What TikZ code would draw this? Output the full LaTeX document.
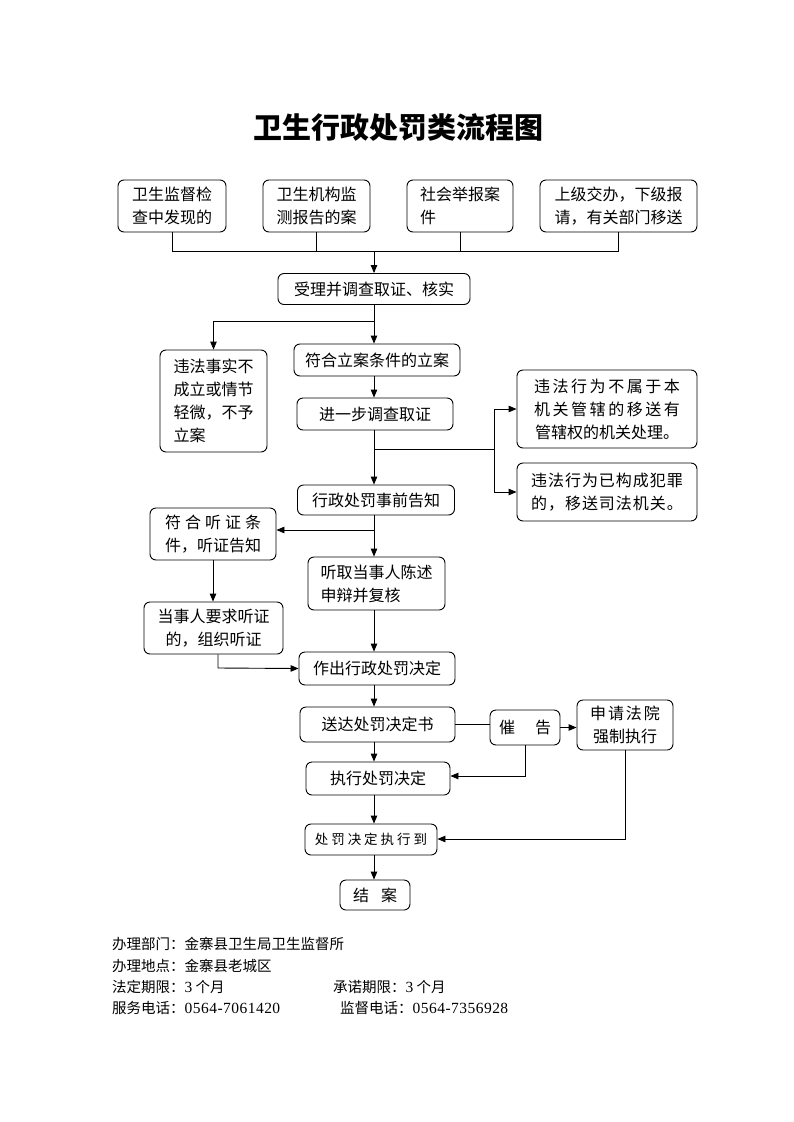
\documentclass[tikz,border=0pt]{standalone}
\usepackage{fontspec}
\newfontfamily\cjk{Noto Sans CJK SC}
\newfontfamily\numf{Liberation Serif}
\usetikzlibrary{arrows.meta}
\tikzset{
  box/.style={draw, line width=0.9pt, rounded corners=6pt, inner sep=0pt, align=center,
    font=\cjk\fontsize{16}{23}\selectfont},
  lbox/.style={box, align=left},
  conn/.style={line width=0.9pt},
  arr/.style={conn, -{Triangle[length=8pt,width=6.5pt]}},
  foot/.style={anchor=west, inner sep=0pt, font=\cjk\fontsize{14.5}{16}\selectfont}
}
\begin{document}
\begin{tikzpicture}[x=1pt,y=-1pt]
\useasboundingbox (0,0) rectangle (793,1122);
\fill[white] (0,0) rectangle (793,1122);

\node[font=\cjk\bfseries\fontsize{29}{32}\selectfont] (title) at (398,128) {卫生行政处罚类流程图};

% top sources
\node[box, minimum width=108pt, minimum height=52pt] (s1) at (172,206) {卫生监督检\\查中发现的};
\node[box, minimum width=107pt, minimum height=52pt] (s2) at (316.5,206) {卫生机构监\\测报告的案};
\node[lbox, minimum width=106pt, minimum height=52pt] (s3) at (460,206) {社会举报案\\件};
\node[box, minimum width=157pt, minimum height=52pt] (s4) at (618.5,206) {上级交办，下级报\\请，有关部门移送};

\coordinate (bus) at (374,251);
\draw[conn] (s1.south) -- (s1.south |- bus) -- (s4.south |- bus) -- (s4.south);
\draw[conn] (s2.south) -- (s2.south |- bus);
\draw[conn] (s3.south) -- (s3.south |- bus);

% main column
\node[box, minimum width=192pt, minimum height=31pt] (acc) at (374,289) {受理并调查取证、核实};
\draw[arr] (bus) -- (acc.north);

\node[box, minimum width=166pt, minimum height=32pt] (lian) at (377,360) {符合立案条件的立案};
\node[lbox, minimum width=107pt, minimum height=102pt] (buli) at (213.5,401) {违法事实不\\成立或情节\\轻微，不予\\立案};
\coordinate (b1) at (374,321);
\draw[arr] (acc.south) -- (acc.south |- lian.north);
\draw[arr] (b1) -- (buli.north |- b1) -- (buli.north);

\node[box, minimum width=156pt, minimum height=32pt] (dc) at (375,414) {进一步调查取证};
\draw[arr] (lian.south -| acc.south) -- (dc.north -| acc.south);

\node[box, minimum width=157pt, minimum height=30pt] (gz) at (376,500) {行政处罚事前告知};
\node[box, minimum width=180pt, minimum height=78pt] (ys) at (607,409)
  {\addfontfeature{LetterSpace=16}违法行为不属于本\\\addfontfeature{LetterSpace=16}机关管辖的移送有\\管辖权的机关处理。};
\node[lbox, minimum width=180pt, minimum height=58pt] (sf) at (607,492)
  {\addfontfeature{LetterSpace=6}违法行为已构成犯罪\\\addfontfeature{LetterSpace=6}的，移送司法机关。};
\coordinate (b2) at (374,449);
\coordinate (b2r) at (494,449);
\draw[arr] (dc.south -| acc.south) -- (gz.north -| acc.south);
\draw[conn] (b2) -- (b2r);
\draw[arr] (b2r |- ys.west) -- (ys.west);
\draw[arr] (b2r |- ys.west) -- (b2r |- sf.west) -- (sf.west);

% hearing branch
\node[lbox, minimum width=126pt, minimum height=52pt] (tz) at (213,534)
  {符\hspace{4pt}合\hspace{4pt}听\hspace{4pt}证\hspace{4pt}条\\件，听证告知};
\node[lbox, minimum width=137pt, minimum height=53pt] (tq) at (376.5,583.5) {听取当事人陈述\\申辩并复核};
\coordinate (b3) at (374,530);
\draw[arr] (gz.south -| acc.south) -- (tq.north -| acc.south);
\draw[arr] (b3) -- (tz.east |- b3);

\node[box, minimum width=139pt, minimum height=52pt] (zz) at (213.5,628) {当事人要求听证\\的，组织听证};
\draw[arr] (tz.south) -- (tz.south |- zz.north);

\node[box, minimum width=156pt, minimum height=33pt] (zc) at (377,668.5) {作出行政处罚决定};
\draw[arr] (tq.south -| acc.south) -- (zc.north -| acc.south);
\coordinate (b4) at (218,668);
\draw[arr] (b4 |- zz.south) -- (b4) -- (zc.west);

% delivery and enforcement
\node[box, minimum width=155pt, minimum height=35pt] (sd) at (377.5,724.5) {送达处罚决定书};
\draw[arr] (zc.south -| acc.south) -- (sd.north -| acc.south);

\node[box, minimum width=70pt, minimum height=35pt] (cg) at (525,727.5) {催\hspace{20pt}告};
\node[box, minimum width=96pt, minimum height=50pt] (fy) at (625,725)
  {\addfontfeature{LetterSpace=12}申请法院\\强制执行};
\draw[conn] (sd.east) -- (cg.west |- sd.east);
\draw[arr] (cg.east) -- (fy.west |- cg.east);

\node[box, minimum width=144pt, minimum height=33pt] (zx) at (378,778.5) {执行处罚决定};
\draw[arr] (sd.south -| acc.south) -- (zx.north -| acc.south);
\coordinate (b5) at (525,776);
\draw[arr] (cg.south) -- (b5) -- (zx.east |- b5);

\node[box, minimum width=132pt, minimum height=31pt, font=\cjk\fontsize{13.5}{16}\selectfont] (zxd) at (371,839.5)
  {\addfontfeature{LetterSpace=22}处罚决定执行到};
\draw[arr] (zx.south -| acc.south) -- (zxd.north -| acc.south);
\coordinate (b6) at (625,839);
\draw[arr] (fy.south) -- (b6) -- (zxd.east |- b6);

\node[box, minimum width=70pt, minimum height=30pt] (ja) at (375,895) {结\hspace{12pt}案};
\draw[arr] (zxd.south -| acc.south) -- (ja.north -| acc.south);

% footer
\node[foot] (f1) at (112,944) {办理部门：金寨县卫生局卫生监督所};
\node[foot] (f2) at (112,966) {办理地点：金寨县老城区};
\node[foot] (f3) at (112,987) {法定期限：{\numf\fontsize{15.5}{16}\selectfont 3} 个月};
\node[foot] (f4) at (333,987) {承诺期限：{\numf\fontsize{15.5}{16}\selectfont 3} 个月};
\node[foot] (f5) at (112,1008) {服务电话：{\numf\fontsize{15.5}{16}\selectfont\addfontfeature{LetterSpace=3} 0564-7061420}};
\node[foot] (f6) at (340,1008) {监督电话：{\numf\fontsize{15.5}{16}\selectfont\addfontfeature{LetterSpace=3} 0564-7356928}};
\end{tikzpicture}
\end{document}
